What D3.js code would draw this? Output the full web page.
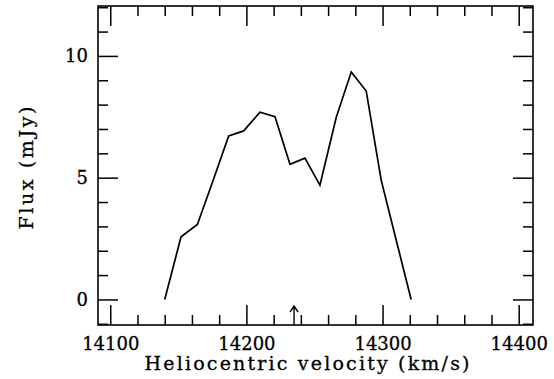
<!DOCTYPE html>
<html>
<head>
<meta charset="utf-8">
<script src="https://cdn.jsdelivr.net/npm/d3@7"></script>
<style>
  body { margin: 0; background: #fff; }
  svg { display: block; }
  text { font-family: "DejaVu Serif", serif; fill: #000; stroke: #000; stroke-width: 0.3; }
</style>
</head>
<body>
<svg width="554" height="379"></svg>
<script>
// spectrum
let velocity = [14140, 14152, 14164, 14175, 14187, 14198, 14210, 14221, 14232, 14243, 14254, 14266, 14277, 14288, 14299, 14310, 14321];
let flux = [0, 2.57, 3.08, 4.8, 6.71, 6.92, 7.69, 7.5, 5.55, 5.8, 4.69, 7.48, 9.34, 8.56, 4.9, 2.44, 0];
let xMajor = [14100, 14200, 14300, 14400];
let yMajor = [0, 5, 10];
let markerVelocity = 14235;

let svg = d3.select('svg');
let margin = {top: 6, right: 21, bottom: 54, left: 98};
let width = +svg.attr('width') - margin.left - margin.right;
let height = +svg.attr('height') - margin.top - margin.bottom;
let g = svg.append('g').attr('transform', 'translate(' + margin.left + ',' + margin.top + ')');

let x = d3.scaleLinear().domain([14091, 14410.5]).range([0, width]);
let y = d3.scaleLinear().domain([-1.05, 12.05]).range([height, 0]);

let xMinor = d3.range(14100, 14401, 20).filter(function(v) { return xMajor.indexOf(v) < 0; });
let yMinor = d3.range(-1, 13, 1).filter(function(v) { return yMajor.indexOf(v) < 0; });

function ticks(axis, values, size, labels) {
  return axis.tickValues(values).tickSizeInner(size).tickSizeOuter(0)
    .tickFormat(labels ? d3.format('d') : '');
}

// bottom
g.append('g').attr('transform', 'translate(0,' + height + ')')
  .call(ticks(d3.axisBottom(x), xMajor, -20, true).tickPadding(12));
g.append('g').attr('transform', 'translate(0,' + height + ')')
  .call(ticks(d3.axisBottom(x), xMinor, -10, false));
// top
g.append('g').call(ticks(d3.axisTop(x), xMajor, -20, false));
g.append('g').call(ticks(d3.axisTop(x), xMinor, -10, false));
// left
g.append('g').call(ticks(d3.axisLeft(y), yMajor, -20, true).tickPadding(10));
g.append('g').call(ticks(d3.axisLeft(y), yMinor, -10, false));
// right
g.append('g').attr('transform', 'translate(' + width + ',0)')
  .call(ticks(d3.axisRight(y), yMajor, -20, false));
g.append('g').attr('transform', 'translate(' + width + ',0)')
  .call(ticks(d3.axisRight(y), yMinor, -10, false));

g.selectAll('.domain').remove();
g.selectAll('.tick line').attr('stroke', '#000').attr('stroke-width', 1.5);
g.selectAll('.tick text').attr('font-size', 18).attr('font-family', '"DejaVu Serif", serif');

g.append('rect')
  .attr('width', width).attr('height', height)
  .attr('fill', 'none').attr('stroke', '#000').attr('stroke-width', 1.6);

let data = velocity.map(function(v, i) { return {v: v, f: flux[i]}; });
let line = d3.line()
  .x(function(d) { return x(d.v); })
  .y(function(d) { return y(d.f); });

g.append('path')
  .datum(data)
  .attr('fill', 'none')
  .attr('stroke', '#000')
  .attr('stroke-width', 1.7)
  .attr('stroke-linejoin', 'miter')
  .attr('d', line);

// arrow marking the systemic velocity
let ax = x(markerVelocity);
g.append('path')
  .attr('fill', 'none').attr('stroke', '#000').attr('stroke-width', 1.4)
  .attr('d', 'M' + ax + ',' + height + 'V' + (height - 19) +
    'M' + (ax - 4) + ',' + (height - 13) + 'L' + ax + ',' + (height - 19) + 'L' + (ax + 4) + ',' + (height - 13));

svg.append('text')
  .attr('x', 307).attr('y', 370)
  .attr('text-anchor', 'middle')
  .attr('font-size', 19)
  .attr('textLength', 325)
  .attr('lengthAdjust', 'spacing')
  .text('Heliocentric velocity (km/s)');

svg.append('text')
  .attr('transform', 'translate(33,168) rotate(-90)')
  .attr('text-anchor', 'middle')
  .attr('font-size', 19)
  .attr('textLength', 123)
  .attr('lengthAdjust', 'spacing')
  .text('Flux (mJy)');
</script>
</body>
</html>
